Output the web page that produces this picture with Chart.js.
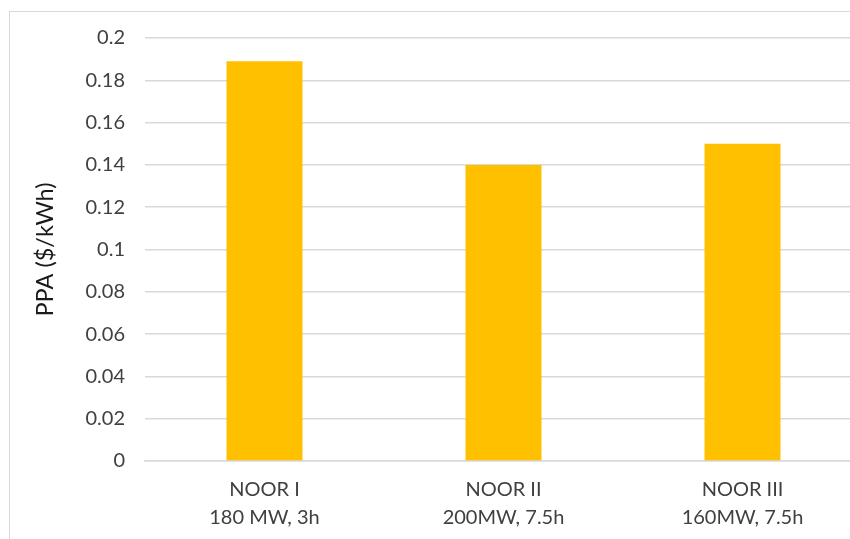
<!DOCTYPE html>
<html>
<head>
<meta charset="utf-8">
<script src="https://cdn.jsdelivr.net/npm/chart.js@4"></script>
<style>
  html, body { margin: 0; padding: 0; background: #fff; overflow: hidden; }
  #wrap { position: relative; width: 850px; height: 539px; overflow: hidden; }
  #box { position: absolute; left: 9px; top: 11px; width: 900px; height: 600px; border: 1px solid #d9d9d9; }
  #holder { position: absolute; left: 0; top: 0; width: 870px; height: 539px; }
</style>
</head>
<body>
<div id="wrap">
  <div id="box"></div>
  <div id="holder"><canvas id="ppaChart"></canvas></div>
</div>
<script>
// Chart data
const categories = [['NOOR I', '180 MW, 3h'], ['NOOR II', '200MW, 7.5h'], ['NOOR III', '160MW, 7.5h']];
const ppaValues = [0.189, 0.14, 0.15];
const yTicks = [0, 0.02, 0.04, 0.06, 0.08, 0.1, 0.12, 0.14, 0.16, 0.18, 0.2];

document.addEventListener('DOMContentLoaded', function() {
    initPpaChart();
});

function initPpaChart() {
    const ctx = document.getElementById('ppaChart').getContext('2d');

    new Chart(ctx, {
        type: 'bar',
        data: {
            labels: categories,
            datasets: [{
                data: ppaValues,
                backgroundColor: '#FFC000',
                borderWidth: 0,
                barPercentage: 0.318,
                categoryPercentage: 1
            }]
        },
        options: {
            responsive: true,
            maintainAspectRatio: false,
            animation: false,
            layout: { padding: { top: 38, right: 8, bottom: 0, left: 0 } },
            plugins: {
                legend: { display: false },
                tooltip: { enabled: false }
            },
            scales: {
                y: {
                    min: 0,
                    max: 0.2,
                    afterBuildTicks: function(scale) {
                        scale.ticks = yTicks.map(v => ({ value: v }));
                    },
                    afterFit: function(scale) { scale.width = 145; },
                    ticks: {
                        color: '#404040',
                        font: { family: 'Lato', size: 20 },
                        padding: 20,
                        callback: v => String(v)
                    },
                    grid: { color: '#d9d9d9', lineWidth: 1.5, drawTicks: false },
                    border: { display: false },
                    title: {
                        display: true,
                        text: 'PPA ($/kWh)',
                        color: '#1a1a1a',
                        font: { family: 'Lato', size: 23.5 },
                        padding: { top: 31, bottom: 0 }
                    }
                },
                x: {
                    afterFit: function(scale) { scale.height = 78; },
                    ticks: {
                        color: '#404040',
                        font: { family: 'Lato', size: 20, lineHeight: 1.4 },
                        padding: 15,
                        maxRotation: 0
                    },
                    grid: { display: false, drawTicks: false },
                    border: { color: '#d9d9d9', width: 1.5 }
                }
            }
        }
    });
}
</script>
</body>
</html>
